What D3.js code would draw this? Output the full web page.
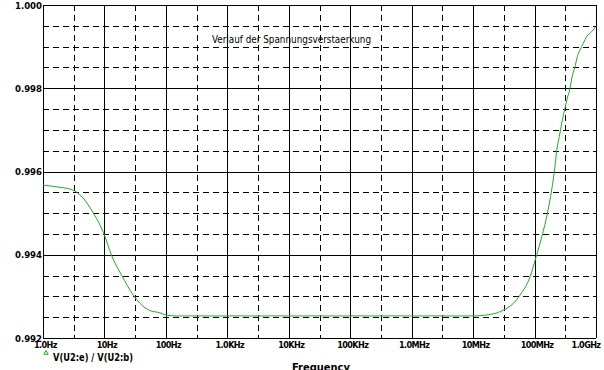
<!DOCTYPE html>
<html>
<head>
<meta charset="utf-8">
<script src="https://d3js.org/d3.v7.min.js"></script>
<style>
  body { margin: 0; background: #fff; }
  svg { display: block; }
</style>
</head>
<body>
<div id="chart"></div>
<script>
//==================
// data
var freqs = [1, 1.9, 3, 4.5, 6.6, 8.5, 10, 13, 19, 29.5, 38, 55, 78, 103, 150,
  1e3, 1e4, 1e5, 1e6, 1e7, 2.13e7, 3.1e7, 4.5e7, 5.8e7, 8.45e7, 1.06e8, 1.31e8,
  1.62e8, 1.9e8, 2.15e8, 2.3e8, 2.53e8, 2.77e8, 3.13e8, 3.41e8, 3.78e8, 4.03e8,
  4.56e8, 4.97e8, 5.5e8, 6.22e8, 7.06e8, 8.52e8, 1e9];
var gain = [0.99567, 0.99562, 0.99556, 0.99536, 0.99500, 0.99471, 0.99447, 0.99399,
  0.99351, 0.99303, 0.99283, 0.99266, 0.99261, 0.99255, 0.99253,
  0.99253, 0.99253, 0.99253, 0.99253, 0.99253, 0.99258, 0.99267, 0.99283, 0.99303,
  0.99347, 0.99395, 0.99443, 0.99500, 0.99556, 0.99612, 0.99652, 0.99684, 0.99716,
  0.99752, 0.99776, 0.99800, 0.99824, 0.99852, 0.99876, 0.99892, 0.99908, 0.99924,
  0.99936, 0.99948];

var xTickVals = [1, 10, 100, 1e3, 1e4, 1e5, 1e6, 1e7, 1e8, 1e9];
var xTickLabels = ["1.0Hz", "10Hz", "100Hz", "1.0KHz", "10KHz", "100KHz", "1.0MHz", "10MHz", "100MHz", "1.0GHz"];
var yTickVals = [0.992, 0.994, 0.996, 0.998, 1.000];
var yTickLabels = ["0.992", "0.994", "0.996", "0.998", "1.000"];
var yMinorVals = [0.9925, 0.993, 0.9935, 0.9945, 0.995, 0.9955, 0.9965, 0.997, 0.9975, 0.9985, 0.999, 0.9995];

var title = "Verlauf der Spannungsverstaerkung";
var seriesName = "V(U2:e) / V(U2:b)";
var xTitle = "Frequency";

//==================
var svgWidth = 604, svgHeight = 370;
var plotLeft = 43, plotTop = 5, plotRight = 596, plotBottom = 338;
var green = "#19b019";
var tickFont = "'DejaVu Sans Condensed', 'DejaVu Sans', sans-serif";

var svg = d3.select("#chart")
  .append("svg")
  .attr("width", svgWidth)
  .attr("height", svgHeight);

var xScale = d3.scaleLog()
  .domain([1, 1e9])
  .range([plotLeft, plotRight]);

var yScale = d3.scaleLinear()
  .domain([0.992, 1.000])
  .range([plotBottom, plotTop]);

function px(v) { return Math.round(v) + 0.5; }

//==================
// grid
var grid = svg.append("g")
  .attr("shape-rendering", "crispEdges")
  .attr("stroke", "#000")
  .attr("stroke-width", 1);

// half-decade dashed verticals
var halfDecades = xTickVals.slice(0, -1).map(function(v) { return v * Math.sqrt(10); });
grid.selectAll(".vminor")
  .data(halfDecades)
  .enter()
  .append("line")
  .attr("x1", d => px(xScale(d)))
  .attr("x2", d => px(xScale(d)))
  .attr("y1", plotTop)
  .attr("y2", plotBottom)
  .attr("stroke-dasharray", "6,4");

grid.selectAll(".hminor")
  .data(yMinorVals)
  .enter()
  .append("line")
  .attr("x1", plotLeft)
  .attr("x2", plotRight)
  .attr("y1", d => px(yScale(d)))
  .attr("y2", d => px(yScale(d)))
  .attr("stroke-dasharray", "6,4");

grid.selectAll(".vmajor")
  .data(xTickVals)
  .enter()
  .append("line")
  .attr("x1", d => px(xScale(d)))
  .attr("x2", d => px(xScale(d)))
  .attr("y1", plotTop)
  .attr("y2", plotBottom);

grid.selectAll(".hmajor")
  .data(yTickVals)
  .enter()
  .append("line")
  .attr("x1", plotLeft)
  .attr("x2", plotRight)
  .attr("y1", d => px(yScale(d)))
  .attr("y2", d => px(yScale(d)));

//==================
// axes (labels only, gridlines do the rest)
var xAxis = d3.axisBottom(xScale)
  .tickValues(xTickVals)
  .tickSize(0)
  .tickPadding(4)
  .tickFormat((d, i) => xTickLabels[i]);

var yAxis = d3.axisLeft(yScale)
  .tickValues(yTickVals)
  .tickSize(0)
  .tickPadding(1)
  .tickFormat((d, i) => yTickLabels[i]);

var gx = svg.append("g")
  .attr("transform", "translate(0," + plotBottom + ")")
  .call(xAxis);
gx.select(".domain").remove();
gx.selectAll("text")
  .attr("font-family", tickFont)
  .attr("font-weight", "bold")
  .attr("font-size", 9)
  .attr("letter-spacing", -0.6)
  .attr("dx", 2)
  .attr("fill", "#000");
// last label sits inside the window
gx.selectAll(".tick:last-of-type text")
  .attr("text-anchor", "end")
  .attr("dx", 4);

var gy = svg.append("g")
  .attr("transform", "translate(" + plotLeft + ",0)")
  .call(yAxis);
gy.select(".domain").remove();
gy.selectAll("text")
  .attr("font-family", tickFont)
  .attr("font-weight", "bold")
  .attr("font-size", 9.5)
  .attr("fill", "#000");

//==================
// curve
var line = d3.line()
  .x((d, i) => xScale(freqs[i]))
  .y(d => yScale(d))
  .curve(d3.curveMonotoneX);

svg.append("path")
  .datum(gain)
  .attr("d", line)
  .attr("fill", "none")
  .attr("stroke", green)
  .attr("stroke-width", 1);

//==================
// title, legend, x title
svg.append("text")
  .attr("x", 212)
  .attr("y", 43)
  .attr("font-family", tickFont)
  .attr("font-size", 10)
  .attr("textLength", 159)
  .attr("lengthAdjust", "spacingAndGlyphs")
  .text(title);

svg.append("path")
  .attr("d", d3.symbol().type(d3.symbolTriangle).size(8))
  .attr("transform", "translate(46,353)")
  .attr("fill", "none")
  .attr("stroke", green);

svg.append("text")
  .attr("x", 53)
  .attr("y", 361)
  .attr("font-family", tickFont)
  .attr("font-weight", "bold")
  .attr("font-size", 11)
  .attr("textLength", 80)
  .attr("lengthAdjust", "spacingAndGlyphs")
  .text(seriesName);

svg.append("text")
  .attr("x", 321)
  .attr("y", 371)
  .attr("text-anchor", "middle")
  .attr("font-family", tickFont)
  .attr("font-weight", "bold")
  .attr("font-size", 11)
  .text(xTitle);
</script>
</body>
</html>
